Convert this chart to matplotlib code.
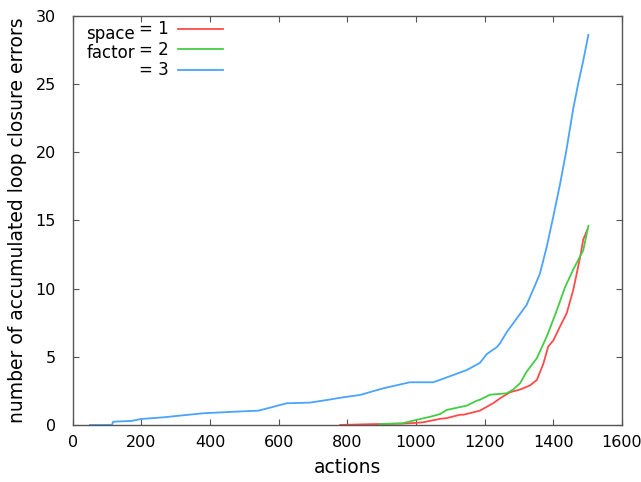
import matplotlib
matplotlib.use("Agg")
import matplotlib.pyplot as plt
from matplotlib.lines import Line2D

# Data
blue_x = [50, 114, 118, 172, 200, 264, 322, 381, 478, 541, 575, 623, 691, 740, 788, 837,
          905, 982, 1050, 1080, 1148, 1186, 1206, 1235, 1245, 1264, 1283, 1322, 1347, 1361,
          1381, 1400, 1419, 1437, 1458, 1473, 1487, 1502]
blue_y = [0, 0, 0.24, 0.3, 0.44, 0.56, 0.71, 0.86, 0.98, 1.05, 1.27, 1.59, 1.64, 1.83, 2.03, 2.2,
          2.69, 3.13, 3.13, 3.4, 4.03, 4.55, 5.2, 5.7, 6.0, 6.8, 7.45, 8.8, 10.26, 11.1,
          13.1, 15.3, 17.6, 20.0, 23.2, 25.1, 26.7, 28.6]

green_x = [895, 960, 997, 1041, 1070, 1089, 1148, 1177, 1186, 1216, 1254, 1264, 1283, 1303,
           1322, 1352, 1381, 1410, 1434, 1458, 1487, 1502]
green_y = [0.07, 0.12, 0.35, 0.6, 0.8, 1.1, 1.42, 1.78, 1.85, 2.22, 2.3, 2.32, 2.6, 3.06,
           3.9, 4.9, 6.5, 8.4, 10.1, 11.4, 12.8, 14.6]

red_x = [779, 851, 960, 997, 1021, 1070, 1089, 1128, 1138, 1186, 1225, 1245, 1274, 1303,
         1332, 1352, 1371, 1385, 1400, 1419, 1439, 1458, 1478, 1487, 1499]
red_y = [0, 0.05, 0.1, 0.15, 0.2, 0.45, 0.5, 0.75, 0.75, 1.05, 1.6, 1.96, 2.4, 2.6,
         2.9, 3.3, 4.5, 5.75, 6.2, 7.2, 8.2, 9.9, 12.3, 13.6, 14.3]

series_labels = ["= 1", "= 2", "= 3"]
colors = ["#ff4a4a", "#44cc44", "#4aa3ff"]

x_ticks = list(range(0, 1601, 200))
y_ticks = list(range(0, 31, 5))

plt.rcParams['font.family'] = ['DejaVu Sans']

fig = plt.figure(figsize=(6.41, 4.82), dpi=100)
ax = fig.add_axes([0.1134, 0.1183, 0.857, 0.8491])

ax.plot(red_x, red_y, color=colors[0], lw=1.3)
ax.plot(green_x, green_y, color=colors[1], lw=1.3)
ax.plot(blue_x, blue_y, color=colors[2], lw=1.3)

ax.set_xlim(0, 1600)
ax.set_ylim(0, 30)
ax.set_xticks(x_ticks)
ax.set_yticks(y_ticks)
ax.tick_params(direction='in', top=True, right=True, length=4, width=0.8,
               color='#555555', labelsize=11.5)
ax.tick_params(axis='y', pad=12)
ax.tick_params(axis='x', pad=7)
for s in ax.spines.values():
    s.set_color('#555555')
    s.set_linewidth(1.0)

ax.set_xlabel("actions", fontsize=13.5, labelpad=6)
ax.set_ylabel("number of accumulated loop closure errors", fontsize=13.5, labelpad=6)

handles = [Line2D([], [], color=c, lw=1.3) for c in colors]
leg = ax.legend(handles, series_labels, loc='upper left', bbox_to_anchor=(0.108, 1.005),
                frameon=False, markerfirst=False, fontsize=12, handlelength=2.7,
                labelspacing=0.15, handletextpad=0.6, borderaxespad=0.0)
ax.text(0.025, 0.978, "space\nfactor", transform=ax.transAxes, fontsize=12,
        va='top', ha='left', linespacing=1.12)

fig.savefig("out.png", dpi=100)
